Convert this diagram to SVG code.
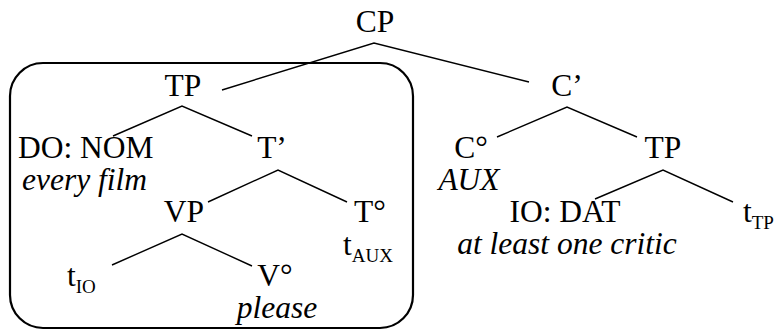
<svg xmlns="http://www.w3.org/2000/svg" width="774" height="331" viewBox="0 0 774 331" font-family="'Liberation Serif', 'DejaVu Serif', 'Times New Roman', serif">
<style>
text{font-family:'Liberation Serif','DejaVu Serif','Times New Roman',serif;font-size:31.5px;fill:#000}
.c{text-anchor:middle}
.i{font-style:italic}
.sub{font-size:19px}
.ln{stroke:#000;stroke-width:1.4;fill:none}
.box{stroke:#000;stroke-width:2.2;fill:none}
</style>
<rect width="774" height="331" fill="#fff"/>
<rect id="box" class="box" x="10" y="63" width="403" height="265" rx="33" ry="33"/>
<g id="connectors">
<polyline class="ln" points="222,90 374,43 529,82"/>
<polyline class="ln" points="113,136 182,106 252,136"/>
<polyline class="ln" points="208,202 278,170 347,202"/>
<polyline class="ln" points="112,265 182,234 252,266"/>
<polyline class="ln" points="497,137 567,107 637,137"/>
<polyline class="ln" points="595,199 663,170 733,202"/>
</g>
<g id="CP"><text class="c" x="375" y="32">CP</text></g>
<g id="TP1"><text class="c" x="183" y="96">TP</text></g>
<g id="Cbar"><text class="c" x="567" y="96">C’</text></g>
<g id="DO"><text x="18" y="158">DO: NOM</text><text class="i" x="22" y="190">every film</text></g>
<g id="Tbar"><text class="c" x="272" y="158">T’</text></g>
<g id="C0"><text class="c" x="471" y="158">C°</text><text class="i c" x="469" y="190">AUX</text></g>
<g id="TP2"><text class="c" x="663" y="158">TP</text></g>
<g id="VP"><text class="c" x="184" y="222">VP</text></g>
<g id="T0"><text class="c" x="370" y="222">T°</text><text x="343" y="255">t<tspan class="sub" dy="7">AUX</tspan></text></g>
<g id="IO"><text class="c" x="565" y="222">IO: DAT</text><text class="i c" x="567" y="254">at least one critic</text></g>
<g id="tTP"><text x="743" y="222">t<tspan class="sub" dy="7">TP</tspan></text></g>
<g id="tIO"><text x="67" y="286">t<tspan class="sub" dy="7">IO</tspan></text></g>
<g id="V0"><text class="c" x="275" y="286">V°</text><text class="i c" x="277" y="318">please</text></g>
</svg>
